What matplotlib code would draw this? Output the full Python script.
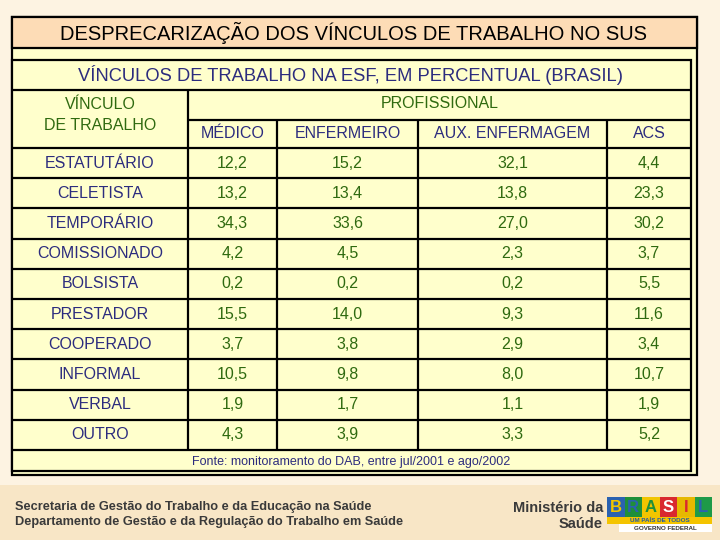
import matplotlib.pyplot as plt
from matplotlib.patches import Rectangle

plt.rcParams['font.family'] = ['Liberation Sans', 'DejaVu Sans']

# Data
# ====
title = "DESPRECARIZAÇÃO DOS VÍNCULOS DE TRABALHO NO SUS"
subtitle = "VÍNCULOS DE TRABALHO NA ESF, EM PERCENTUAL (BRASIL)"
professions = ["MÉDICO", "ENFERMEIRO", "AUX. ENFERMAGEM", "ACS"]
vinculos = ["ESTATUTÁRIO", "CELETISTA", "TEMPORÁRIO", "COMISSIONADO", "BOLSISTA",
            "PRESTADOR", "COOPERADO", "INFORMAL", "VERBAL", "OUTRO"]
medico = [12.2, 13.2, 34.3, 4.2, 0.2, 15.5, 3.7, 10.5, 1.9, 4.3]
enfermeiro = [15.2, 13.4, 33.6, 4.5, 0.2, 14.0, 3.8, 9.8, 1.7, 3.9]
aux_enfermagem = [32.1, 13.8, 27.0, 2.3, 0.2, 9.3, 2.9, 8.0, 1.1, 3.3]
acs = [4.4, 23.3, 30.2, 3.7, 5.5, 11.6, 3.4, 10.7, 1.9, 5.2]
fonte = "Fonte: monitoramento do DAB, entre jul/2001 e ago/2002"

# Layout (pixels)
# ===============
col_edges = [12, 188, 277, 418, 607, 691]
row_top = 148
row_h = 30.2
navy = "#2c2c7e"
green = "#2f6a10"
lw = 1.6
fs = 11.5

fig = plt.figure(figsize=(7.2, 5.4), dpi=100)
fig.patch.set_facecolor("#fdf3e2")
ax = fig.add_axes([0, 0, 1, 1])
ax.set_xlim(0, 720)
ax.set_ylim(540, 0)
ax.axis("off")

# footer band
ax.add_patch(Rectangle((0, 485), 720, 55, facecolor="#f8e6c6", edgecolor="none"))

# outer frame
ax.add_patch(Rectangle((12, 17), 685, 458, facecolor="#ffffcc", edgecolor="black", lw=lw))
ax.add_patch(Rectangle((12, 17), 685, 31, facecolor="#fddcb6", edgecolor="black", lw=lw))
ax.text(354, 33, title, ha="center", va="center", fontsize=14.5, color="black")

# inner table
ax.add_patch(Rectangle((12, 60), 679, 411, facecolor="#ffffcc", edgecolor="black", lw=lw))
ax.text(351, 75, subtitle, ha="center", va="center", fontsize=13.2, color=navy)

def hline(y, x0=col_edges[0], x1=col_edges[-1]):
    ax.plot([x0, x1], [y, y], color="black", lw=lw, solid_capstyle="butt")

def vline(x, y0, y1):
    ax.plot([x, x], [y0, y1], color="black", lw=lw, solid_capstyle="butt")

hline(90)
hline(120, col_edges[1])
n = len(vinculos)
for i in range(n + 1):
    hline(row_top + i * row_h)
bottom = row_top + n * row_h
vline(col_edges[1], 90, bottom)
for x in col_edges[2:-1]:
    vline(x, 120, bottom)

ax.text((col_edges[0] + col_edges[1]) / 2, 115, "VÍNCULO\nDE TRABALHO", ha="center",
        va="center", fontsize=fs, color=green, linespacing=1.45)
ax.text((col_edges[1] + col_edges[-1]) / 2, 104, "PROFISSIONAL", ha="center", va="center",
        fontsize=fs, color=green)
for j, p in enumerate(professions):
    ax.text((col_edges[j + 1] + col_edges[j + 2]) / 2, 134, p, ha="center", va="center",
            fontsize=fs, color=navy)

columns = [medico, enfermeiro, aux_enfermagem, acs]
for i, v in enumerate(vinculos):
    yc = row_top + (i + 0.5) * row_h
    ax.text((col_edges[0] + col_edges[1]) / 2, yc, v, ha="center", va="center",
            fontsize=fs, color=navy)
    for j, col in enumerate(columns):
        ax.text((col_edges[j + 1] + col_edges[j + 2]) / 2, yc,
                "{:.1f}".format(col[i]).replace(".", ","), ha="center", va="center",
                fontsize=fs, color=green)

ax.text(351, bottom + 12, fonte, ha="center", va="center", fontsize=9,
        color=navy, family=["Liberation Sans Narrow", "Liberation Sans"])

# footer
ax.text(15, 507, "Secretaria de Gestão do Trabalho e da Educação na Saúde", fontsize=9.2,
        fontweight="bold", color="#3a3a3a", va="center",
        family=["Liberation Sans Narrow", "Liberation Sans"])
ax.text(15, 522, "Departamento de Gestão e da Regulação do Trabalho em Saúde", fontsize=9.2,
        fontweight="bold", color="#3a3a3a", va="center",
        family=["Liberation Sans Narrow", "Liberation Sans"])
ax.text(603, 508, "Ministério da", fontsize=10.5, fontweight="bold", color="#3a3a3a",
        ha="right", va="center")
ax.text(603, 524, "Saúde", fontsize=10.5, fontweight="bold", color="#3a3a3a",
        ha="right", va="center")

# logo
logo_letters = ["B", "R", "A", "S", "I", "L"]
logo_bg = ["#2b62b0", "#1f8f3a", "#f2c500", "#d9282f", "#e6b800", "#1e9a48"]
logo_fg = ["#f2c500", "#2b62b0", "#1f8f3a", "white", "#d9282f", "#2b62b0"]
lx = 607
lw_box = 17.5
for k, (ch, bg, fg) in enumerate(zip(logo_letters, logo_bg, logo_fg)):
    ax.add_patch(Rectangle((lx + k * lw_box, 497), lw_box, 20, facecolor=bg, edgecolor="none"))
    ax.text(lx + k * lw_box + lw_box / 2, 507, ch, ha="center", va="center", fontsize=12,
            fontweight="bold", color=fg)
ax.add_patch(Rectangle((lx, 517), 6 * lw_box, 7, facecolor="#f4c400", edgecolor="none"))
ax.text(lx + 3 * lw_box, 520.5, "UM PAÍS DE TODOS", ha="center", va="center", fontsize=4.5,
        color="#1f5aa8", fontweight="bold")
ax.add_patch(Rectangle((lx + 12, 524), 6 * lw_box - 12, 8, facecolor="white", edgecolor="none"))
ax.text(lx + 3 * lw_box + 6, 528, "GOVERNO FEDERAL", ha="center", va="center", fontsize=4.5,
        color="#333333", fontweight="bold")

plt.savefig("out.png", dpi=100, facecolor=fig.get_facecolor())
